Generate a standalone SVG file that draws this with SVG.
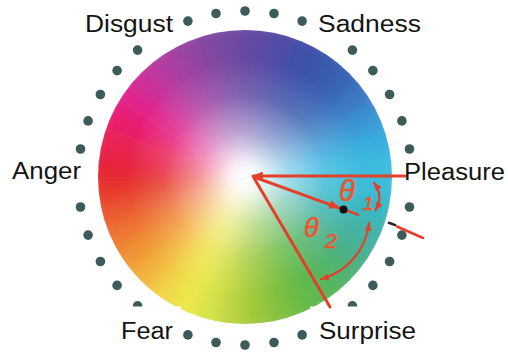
<svg xmlns="http://www.w3.org/2000/svg" width="508" height="353" viewBox="0 0 508 353">
<style>
.lbl{font-family:"Liberation Sans",Arial,sans-serif;font-size:23px;fill:#141414}
.dot{fill:#3e5b5c}
.red{stroke:#e3402b;fill:none;stroke-linecap:round}
.th{font-family:"Liberation Sans",Arial,sans-serif;font-style:italic;fill:#e8582f;stroke:#e8582f;stroke-width:0.7}
</style>
<defs>
<clipPath id="wc"><circle cx="245" cy="177" r="147"/></clipPath>
<filter id="soft" x="-20%" y="-20%" width="140%" height="140%"><feGaussianBlur stdDeviation="8"/></filter>
<radialGradient id="wh" cx="245" cy="177" r="147" gradientUnits="userSpaceOnUse">
<stop offset="0" stop-color="#fff" stop-opacity="1"/>
<stop offset="0.1" stop-color="#fff" stop-opacity="0.9"/>
<stop offset="0.3" stop-color="#fff" stop-opacity="0.5"/>
<stop offset="0.55" stop-color="#fff" stop-opacity="0.15"/>
<stop offset="0.8" stop-color="#fff" stop-opacity="0"/>
</radialGradient>
<marker id="ah" viewBox="0 0 10 8" refX="9" refY="4" markerWidth="11" markerHeight="9" markerUnits="userSpaceOnUse" orient="auto-start-reverse"><path d="M0,0L10,4L0,8z" fill="#e3402b"/></marker>
<marker id="ahs" viewBox="0 0 10 8" refX="9" refY="4" markerWidth="9" markerHeight="7" markerUnits="userSpaceOnUse" orient="auto-start-reverse"><path d="M0,0L10,4L0,8z" fill="#e3402b"/></marker>
</defs>

<g id="wheel">
<g clip-path="url(#wc)">
<g transform="translate(245,177)" filter="url(#soft)">
<path d="M0,0L160,0L157.6,27.8Z" fill="#3cbcd8"/>
<path d="M0,0L157.6,27.8L150.4,54.7Z" fill="#3ab6c0"/>
<path d="M0,0L150.4,54.7L138.6,80Z" fill="#42b2a4"/>
<path d="M0,0L138.6,80L122.6,102.8Z" fill="#4ab08a"/>
<path d="M0,0L122.6,102.8L102.8,122.6Z" fill="#50b26e"/>
<path d="M0,0L102.8,122.6L80,138.6Z" fill="#58b656"/>
<path d="M0,0L80,138.6L54.7,150.4Z" fill="#66ba44"/>
<path d="M0,0L54.7,150.4L27.8,157.6Z" fill="#80c03e"/>
<path d="M0,0L27.8,157.6L0,160Z" fill="#9cc83e"/>
<path d="M0,0L0,160L-27.8,157.6Z" fill="#bad443"/>
<path d="M0,0L-27.8,157.6L-54.7,150.4Z" fill="#d8e248"/>
<path d="M0,0L-54.7,150.4L-80,138.6Z" fill="#ece84a"/>
<path d="M0,0L-80,138.6L-102.8,122.6Z" fill="#f2d446"/>
<path d="M0,0L-102.8,122.6L-122.6,102.8Z" fill="#f2b43e"/>
<path d="M0,0L-122.6,102.8L-138.6,80Z" fill="#f09436"/>
<path d="M0,0L-138.6,80L-150.4,54.7Z" fill="#ee7632"/>
<path d="M0,0L-150.4,54.7L-157.6,27.8Z" fill="#ea5630"/>
<path d="M0,0L-157.6,27.8L-160,0Z" fill="#e6362c"/>
<path d="M0,0L-160,0L-157.6,-27.8Z" fill="#e6243a"/>
<path d="M0,0L-157.6,-27.8L-150.4,-54.7Z" fill="#e82052"/>
<path d="M0,0L-150.4,-54.7L-138.6,-80Z" fill="#e81e6e"/>
<path d="M0,0L-138.6,-80L-122.6,-102.8Z" fill="#e0228c"/>
<path d="M0,0L-122.6,-102.8L-102.8,-122.6Z" fill="#c8309a"/>
<path d="M0,0L-102.8,-122.6L-80,-138.6Z" fill="#ae3ca0"/>
<path d="M0,0L-80,-138.6L-54.7,-150.4Z" fill="#9642a2"/>
<path d="M0,0L-54.7,-150.4L-27.8,-157.6Z" fill="#8046a2"/>
<path d="M0,0L-27.8,-157.6L0,-160Z" fill="#6e48a2"/>
<path d="M0,0L0,-160L27.8,-157.6Z" fill="#5e4aa4"/>
<path d="M0,0L27.8,-157.6L54.7,-150.4Z" fill="#4e4ca6"/>
<path d="M0,0L54.7,-150.4L80,-138.6Z" fill="#4050a8"/>
<path d="M0,0L80,-138.6L102.8,-122.6Z" fill="#3856ac"/>
<path d="M0,0L102.8,-122.6L122.6,-102.8Z" fill="#3862b4"/>
<path d="M0,0L122.6,-102.8L138.6,-80Z" fill="#3a78c2"/>
<path d="M0,0L138.6,-80L150.4,-54.7Z" fill="#3a94d2"/>
<path d="M0,0L150.4,-54.7L157.6,-27.8Z" fill="#38acde"/>
<path d="M0,0L157.6,-27.8L160,0Z" fill="#3cbce0"/>
</g>
<circle cx="245" cy="177" r="147" fill="url(#wh)"/>
</g>
</g>

<g id="ring">
<circle class="dot" cx="409.5" cy="207" r="4.8"/>
<circle class="dot" cx="401.9" cy="235.1" r="4.8"/>
<circle class="dot" cx="389.6" cy="261.5" r="4.8"/>
<circle class="dot" cx="372.9" cy="285.4" r="4.8"/>
<circle class="dot" cx="352.4" cy="305.9" r="4.8"/>
<circle class="dot" cx="302.1" cy="334.9" r="4.8"/>
<circle class="dot" cx="274" cy="342.5" r="4.8"/>
<circle class="dot" cx="245" cy="345" r="4.8"/>
<circle class="dot" cx="216" cy="342.5" r="4.8"/>
<circle class="dot" cx="187.9" cy="334.9" r="4.8"/>
<circle class="dot" cx="137.6" cy="305.9" r="4.8"/>
<circle class="dot" cx="117.1" cy="285.4" r="4.8"/>
<circle class="dot" cx="100.4" cy="261.5" r="4.8"/>
<circle class="dot" cx="88.1" cy="235.1" r="4.8"/>
<circle class="dot" cx="80.5" cy="207" r="4.8"/>
<circle class="dot" cx="80.5" cy="149" r="4.8"/>
<circle class="dot" cx="88.1" cy="120.9" r="4.8"/>
<circle class="dot" cx="100.4" cy="94.5" r="4.8"/>
<circle class="dot" cx="117.1" cy="70.6" r="4.8"/>
<circle class="dot" cx="137.6" cy="50.1" r="4.8"/>
<circle class="dot" cx="187.9" cy="21.1" r="4.8"/>
<circle class="dot" cx="216" cy="13.5" r="4.8"/>
<circle class="dot" cx="245" cy="11" r="4.8"/>
<circle class="dot" cx="274" cy="13.5" r="4.8"/>
<circle class="dot" cx="302.1" cy="21.1" r="4.8"/>
<circle class="dot" cx="352.4" cy="50.1" r="4.8"/>
<circle class="dot" cx="372.9" cy="70.6" r="4.8"/>
<circle class="dot" cx="389.6" cy="94.5" r="4.8"/>
<circle class="dot" cx="401.9" cy="120.9" r="4.8"/>
<circle class="dot" cx="409.5" cy="149" r="4.8"/>
<rect x="112" y="306.5" width="69" height="40" fill="#fff"/>
<rect x="310" y="306.5" width="114" height="40" fill="#fff"/>
</g>

<g id="connectors">
<line class="red" x1="405" y1="176" x2="253" y2="176" stroke-width="3" marker-end="url(#ah)"/>
<line class="red" x1="254" y1="177" x2="339" y2="207.8" stroke-width="3" marker-end="url(#ah)"/>
<line class="red" x1="254" y1="178" x2="330" y2="307" stroke-width="3"/>
<line class="red" x1="346" y1="210.3" x2="358" y2="214.6" stroke-width="2.5"/>
<line x1="388" y1="222.5" x2="396" y2="225.4" stroke="#222" stroke-width="2.5"/>
<line class="red" x1="397" y1="226.5" x2="423" y2="238" stroke-width="2.5"/>
<circle cx="343.5" cy="209.5" r="4" fill="#111"/>
<path class="red" d="M374,183Q384,196 375.5,210" stroke-width="2.2" marker-start="url(#ahs)" marker-end="url(#ahs)"/>
<path class="red" d="M369,223A65,65 0 0 1 321,279" stroke-width="2.2" marker-start="url(#ahs)" marker-end="url(#ahs)"/>
</g>

<g id="angles">
<text class="th" x="339" y="201" font-size="29">θ</text>
<text class="th" x="363" y="210" font-size="19">1</text>
<text class="th" x="304" y="237" font-size="27">θ</text>
<text class="th" x="325" y="248" font-size="21">2</text>
</g>

<g id="label-disgust"><text class="lbl" x="85" y="32" textLength="88" lengthAdjust="spacingAndGlyphs">Disgust</text></g>
<g id="label-sadness"><text class="lbl" x="318" y="32" textLength="103" lengthAdjust="spacingAndGlyphs">Sadness</text></g>
<g id="label-anger"><text class="lbl" x="12" y="179" textLength="69" lengthAdjust="spacingAndGlyphs">Anger</text></g>
<g id="label-pleasure"><text class="lbl" x="404" y="180" textLength="101" lengthAdjust="spacingAndGlyphs">Pleasure</text></g>
<g id="label-fear"><text class="lbl" x="121" y="339" textLength="52" lengthAdjust="spacingAndGlyphs">Fear</text></g>
<g id="label-surprise"><text class="lbl" x="319" y="339" textLength="97" lengthAdjust="spacingAndGlyphs">Surprise</text></g>
</svg>
